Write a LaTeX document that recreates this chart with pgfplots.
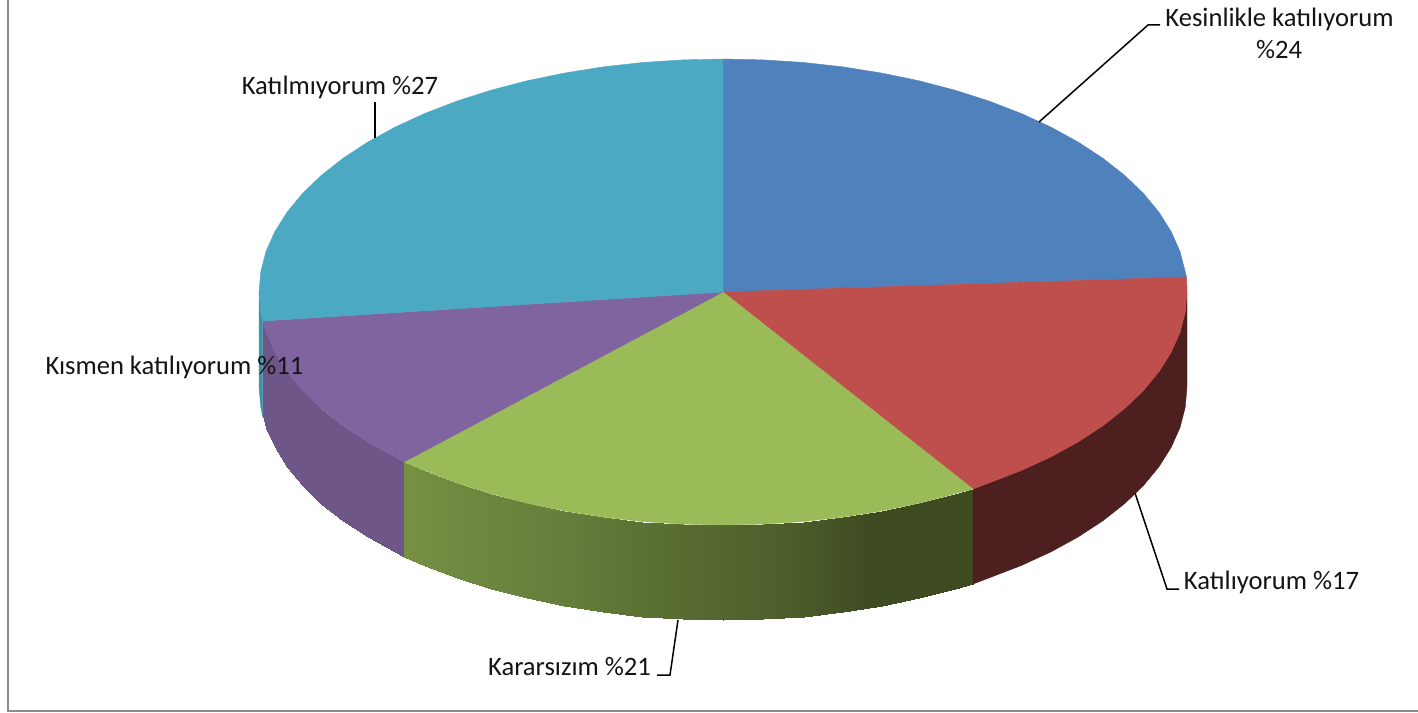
\documentclass[border=0pt]{standalone}
\usepackage{fontspec}
\setmainfont{Carlito}
\usepackage{pgfplots}
\pgfplotsset{compat=1.18}
\pgfplotsset{colormap={sidegreen}{rgb255(0pt)=(129,157,73); rgb255(120pt)=(117,143,67); rgb255(250pt)=(100,125,58); rgb255(340pt)=(87,107,49); rgb255(420pt)=(77,94,43); rgb255(490pt)=(62,74,32); rgb255(569pt)=(62,74,32)}}
\pgfplotsset{colormap={sidepurple}{rgb255(0pt)=(111,86,137); rgb255(60pt)=(110,85,135); rgb255(100pt)=(107,84,128); rgb255(145pt)=(104,80,130)}}
\newcommand{\st}[2]{\addplot[fill={rgb,255:red,#1},draw={rgb,255:red,#1},line width=0.4bp] coordinates {#2} -- cycle;}
\newcommand{\lab}[3]{\node[anchor=base,inner sep=0pt,text=black!92] at (axis cs:#1,#2) {\fontsize{26.6bp}{32bp}\selectfont #3};}
\begin{document}
\begin{tikzpicture}
\begin{axis}[scale only axis,width=1418bp,height=713bp,xmin=0,xmax=1418,ymin=0,ymax=713,y dir=reverse,hide axis,axis line style={draw=none}]
% background
\addplot[fill=white,draw=none] coordinates {(0,0)(1418,0)(1418,713)(0,713)} -- cycle;
% frame
\addplot[color={rgb,255:red,140;green,140;blue,140},line width=2.5bp] coordinates {(8,0)(8,710.8)(1418,710.8)};
% teal side
\st{62;green,146;blue,170}{(262.6,321)(260.8,312.3)(259,292)(259,387)(260.8,407.3)(262.6,416)}
% purple side
\addplot[patch,patch type=rectangle,shader=interp,colormap name=sidepurple,point meta=x,point meta min=259,point meta max=404] coordinates {
(262.6,321)(266,332.5)(266,427.5)(262.6,416)
(266,332.5)(274.8,352.3)(274.8,447.3)(266,427.5)
(274.8,352.3)(287,371.7)(287,466.7)(274.8,447.3)
(287,371.7)(302.5,390.5)(302.5,485.5)(287,466.7)
(302.5,390.5)(321.2,408.5)(321.2,503.5)(302.5,485.5)
(321.2,408.5)(342.9,425.6)(342.9,520.6)(321.2,503.5)
(342.9,425.6)(367.6,441.8)(367.6,536.8)(342.9,520.6)
(367.6,441.8)(394.9,456.8)(394.9,551.8)(367.6,536.8)
(394.9,456.8)(404,462)(404,557)(394.9,551.8)
};
% green side
\addplot[patch,patch type=rectangle,shader=interp,colormap name=sidegreen,point meta=x,point meta min=404,point meta max=973] coordinates {
(404,462)(424.7,470.5)(424.7,565.5)(404,557)
(424.7,470.5)(456.9,482.9)(456.9,577.9)(424.7,565.5)
(456.9,482.9)(491,493.8)(491,588.8)(456.9,577.9)
(491,493.8)(526.9,503.2)(526.9,598.2)(491,588.8)
(526.9,503.2)(564.3,510.9)(564.3,605.9)(526.9,598.2)
(564.3,510.9)(602.9,517.1)(602.9,612.1)(564.3,605.9)
(602.9,517.1)(642.4,521.5)(642.4,616.5)(602.9,612.1)
(642.4,521.5)(682.6,524.1)(682.6,619.1)(642.4,616.5)
(682.6,524.1)(723,525)(723,620)(682.6,619.1)
(723,525)(763.4,524.1)(763.4,619.1)(723,620)
(763.4,524.1)(803.6,521.5)(803.6,616.5)(763.4,619.1)
(803.6,521.5)(843.1,517.1)(843.1,612.1)(803.6,616.5)
(843.1,517.1)(881.7,510.9)(881.7,605.9)(843.1,612.1)
(881.7,510.9)(919.1,503.2)(919.1,598.2)(881.7,605.9)
(919.1,503.2)(955,493.8)(955,588.8)(919.1,598.2)
(955,493.8)(973,489)(973,584)(955,588.8)
};
% red side
\st{77;green,31;blue,30}{(973,489)(989.1,482.9)(1021.3,470.5)(1051.1,456.8)(1078.4,441.8)(1103.1,425.6)(1124.8,408.5)(1143.5,390.5)(1159,371.7)(1171.2,352.3)(1180,332.5)(1185.2,312.3)(1187,292)(1187,387)(1185.2,407.3)(1180,427.5)(1171.2,447.3)(1159,466.7)(1143.5,485.5)(1124.8,503.5)(1103.1,520.6)(1078.4,536.8)(1051.1,551.8)(1021.3,565.5)(989.1,577.9)(973,584)}
% top: blue
\st{79;green,129;blue,189}{(723,292)(723,59)(763.4,59.9)(803.6,62.5)(843.1,66.9)(881.7,73.1)(919.1,80.8)(955,90.2)(989.1,101.1)(1021.3,113.5)(1051.1,127.2)(1078.4,142.2)(1103.1,158.4)(1124.8,175.5)(1143.5,193.5)(1159,212.3)(1171.2,231.7)(1180,251.5)(1185.2,271.7)(1186.5,277)}
% top: red
\st{190;green,79;blue,76}{(723,292)(1186.5,277)(1187,292)(1185.2,312.3)(1180,332.5)(1171.2,352.3)(1159,371.7)(1143.5,390.5)(1124.8,408.5)(1103.1,425.6)(1078.4,441.8)(1051.1,456.8)(1021.3,470.5)(989.1,482.9)(973,489)}
% top: green
\st{155;green,187;blue,89}{(723,292)(973,489)(955,493.8)(919.1,503.2)(881.7,510.9)(843.1,517.1)(803.6,521.5)(763.4,524.1)(723,525)(682.6,524.1)(642.4,521.5)(602.9,517.1)(564.3,510.9)(526.9,503.2)(491,493.8)(456.9,482.9)(424.7,470.5)(404,462)}
% top: purple
\st{128;green,100;blue,160}{(723,292)(404,462)(394.9,456.8)(367.6,441.8)(342.9,425.6)(321.2,408.5)(302.5,390.5)(287,371.7)(274.8,352.3)(266,332.5)(262.6,321)}
% top: teal
\st{75;green,169;blue,195}{(723,292)(262.6,321)(260.8,312.3)(259,292)(260.8,271.7)(266,251.5)(274.8,231.7)(287,212.3)(302.5,193.5)(321.2,175.5)(342.9,158.4)(367.6,142.2)(394.9,127.2)(424.7,113.5)(456.9,101.1)(491,90.2)(526.9,80.8)(564.3,73.1)(602.9,66.9)(642.4,62.5)(682.6,59.9)(723,59)}
% leader lines
\addplot[black,line width=1.5bp] coordinates {(1039,122)(1148,25)(1160,25)};
\addplot[black,line width=1.5bp] coordinates {(1135,493)(1167,589)(1179,589)};
\addplot[black,line width=1.5bp] coordinates {(678,620)(670,675)(657,675)};
\addplot[black,line width=1.5bp] coordinates {(375,138)(375,102)};
% labels
\lab{1279.5}{27}{Kesinlikle katılıyorum}
\lab{1279}{59}{\%24}
\lab{1271.5}{589.5}{Katılıyorum \%17}
\lab{569.5}{675}{Kararsızım \%21}
\lab{174.5}{374}{Kısmen katılıyorum \%11}
\lab{340}{95}{Katılmıyorum \%27}
\end{axis}
\end{tikzpicture}
\end{document}
